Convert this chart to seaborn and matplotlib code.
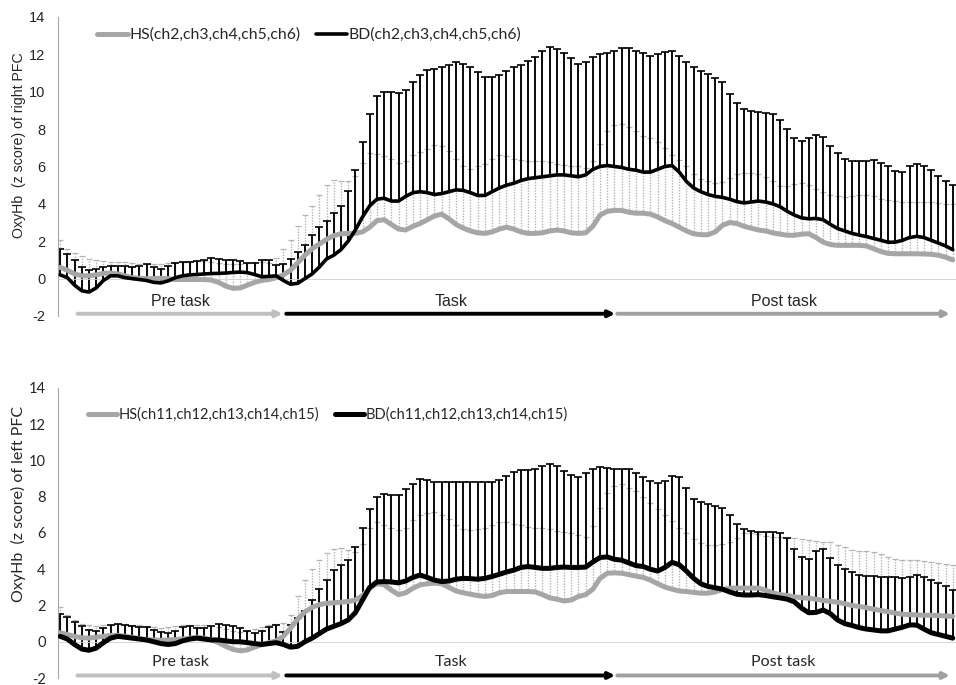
import numpy as np
import pandas as pd
import matplotlib
matplotlib.use("Agg")
import matplotlib.pyplot as plt
import seaborn as sns
from matplotlib.lines import Line2D

# ---------------- data ----------------
sample = list(range(125))

right_hs_mean = [0.60, 0.45, 0.25, 0.15, 0.15, 0.20, 0.28, 0.30, 0.25, 0.15,
                 0.05, 0.02, 0.00, 0.00, 0.02, 0.00, -0.05, -0.05, -0.05, -0.05,
                 -0.05, -0.08, -0.20, -0.40, -0.52, -0.50, -0.35, -0.20, -0.10, -0.05,
                 0.05, 0.20, 0.45, 0.85, 1.25, 1.60, 1.85, 2.10, 2.30, 2.40,
                 2.42, 2.42, 2.50, 2.75, 3.10, 3.15, 2.90, 2.65, 2.60, 2.80,
                 2.95, 3.15, 3.35, 3.45, 3.20, 2.90, 2.70, 2.55, 2.45, 2.42,
                 2.50, 2.65, 2.75, 2.65, 2.50, 2.42, 2.42, 2.45, 2.55, 2.60,
                 2.55, 2.45, 2.42, 2.45, 2.80, 3.40, 3.60, 3.65, 3.65, 3.55,
                 3.50, 3.50, 3.45, 3.30, 3.10, 2.95, 2.75, 2.55, 2.40, 2.35,
                 2.35, 2.50, 2.85, 3.00, 2.95, 2.80, 2.70, 2.60, 2.55, 2.45,
                 2.38, 2.32, 2.32, 2.38, 2.40, 2.20, 1.95, 1.82, 1.78, 1.78,
                 1.78, 1.78, 1.75, 1.60, 1.45, 1.35, 1.33, 1.33, 1.33, 1.33,
                 1.32, 1.30, 1.25, 1.15, 1.00]
right_hs_upper = [2.05, 1.60, 1.35, 1.20, 1.06, 1.00, 0.95, 0.90, 0.90, 0.88,
                  0.85, 0.80, 0.80, 0.78, 0.80, 0.85, 0.90, 0.90, 0.92, 0.95,
                  0.95, 0.90, 0.85, 0.80, 0.80, 0.80, 0.85, 0.90, 0.90, 0.85,
                  1.10, 1.60, 2.05, 2.80, 3.40, 3.90, 4.50, 5.00, 5.28, 5.25,
                  5.20, 5.50, 6.20, 6.70, 6.65, 6.55, 6.40, 6.20, 6.30, 6.60,
                  6.75, 6.95, 7.15, 7.10, 6.85, 6.40, 6.00, 5.85, 6.00, 6.15,
                  6.40, 6.60, 6.55, 6.40, 6.35, 6.30, 6.28, 6.27, 6.22, 6.15,
                  6.10, 6.05, 6.00, 5.92, 6.30, 7.20, 7.90, 8.20, 8.30, 8.10,
                  7.90, 7.65, 7.50, 7.30, 7.00, 6.60, 6.35, 6.00, 5.60, 5.35,
                  5.20, 5.10, 5.15, 5.40, 5.60, 5.65, 5.65, 5.60, 5.45, 5.20,
                  4.95, 4.95, 5.05, 5.10, 5.00, 4.80, 4.62, 4.50, 4.40, 4.38,
                  4.40, 4.45, 4.47, 4.40, 4.28, 4.20, 4.15, 4.12, 4.10, 4.10,
                  4.10, 4.10, 4.05, 4.00, 3.98]
right_bd_mean = [0.20, 0.05, -0.35, -0.65, -0.72, -0.50, -0.10, 0.15, 0.15, 0.05,
                 0.00, -0.05, -0.10, -0.20, -0.23, -0.12, 0.05, 0.15, 0.20, 0.22,
                 0.25, 0.27, 0.28, 0.30, 0.33, 0.35, 0.32, 0.22, 0.10, 0.12,
                 0.15, -0.10, -0.30, -0.25, 0.00, 0.25, 0.62, 1.05, 1.25, 1.55,
                 2.00, 2.60, 3.30, 3.90, 4.25, 4.30, 4.15, 4.15, 4.40, 4.60,
                 4.65, 4.60, 4.50, 4.55, 4.65, 4.75, 4.72, 4.60, 4.45, 4.45,
                 4.65, 4.85, 5.00, 5.10, 5.25, 5.35, 5.40, 5.45, 5.50, 5.55,
                 5.55, 5.50, 5.45, 5.55, 5.85, 6.00, 6.05, 6.00, 5.95, 5.85,
                 5.80, 5.70, 5.70, 5.85, 6.00, 6.05, 5.70, 5.20, 4.85, 4.65,
                 4.50, 4.40, 4.35, 4.25, 4.12, 4.05, 4.10, 4.15, 4.10, 4.00,
                 3.85, 3.60, 3.40, 3.25, 3.20, 3.22, 3.15, 2.90, 2.68, 2.55,
                 2.42, 2.33, 2.25, 2.15, 2.05, 1.95, 1.95, 2.05, 2.20, 2.26,
                 2.20, 2.05, 1.90, 1.75, 1.55]
right_bd_upper = [1.60, 1.30, 1.00, 0.60, 0.45, 0.50, 0.60, 0.70, 0.70, 0.65,
                  0.60, 0.70, 0.80, 0.60, 0.50, 0.70, 0.85, 0.90, 0.90, 0.95,
                  1.00, 1.10, 1.05, 1.00, 1.00, 0.95, 0.85, 0.85, 1.00, 1.00,
                  0.75, 0.80, 1.06, 1.45, 1.78, 2.32, 2.75, 3.10, 3.50, 3.90,
                  4.70, 5.80, 7.30, 8.80, 9.75, 10.00, 10.00, 9.95, 10.10, 10.50,
                  10.90, 11.15, 11.20, 11.30, 11.45, 11.57, 11.50, 11.30, 11.05, 10.80,
                  10.80, 10.90, 11.10, 11.30, 11.45, 11.65, 11.85, 12.20, 12.38, 12.30,
                  12.05, 11.80, 11.50, 11.60, 11.85, 12.00, 12.05, 12.20, 12.33, 12.35,
                  12.20, 12.05, 11.90, 12.00, 12.15, 12.18, 11.90, 11.60, 11.30, 11.10,
                  10.95, 10.75, 10.50, 9.90, 9.40, 9.10, 8.97, 8.93, 8.88, 8.80,
                  8.50, 8.00, 7.50, 7.35, 7.50, 7.70, 7.60, 7.10, 6.70, 6.40,
                  6.27, 6.27, 6.30, 6.36, 6.20, 6.00, 5.75, 5.73, 6.00, 6.15,
                  6.00, 5.80, 5.50, 5.20, 5.00]

left_hs_mean = [0.50, 0.40, 0.30, 0.22, 0.20, 0.25, 0.30, 0.35, 0.35, 0.30,
                0.25, 0.18, 0.12, 0.10, 0.08, 0.10, 0.12, 0.15, 0.20, 0.25,
                0.20, 0.10, -0.05, -0.25, -0.42, -0.50, -0.45, -0.30, -0.15, -0.05,
                0.05, 0.30, 0.75, 1.25, 1.65, 1.90, 2.05, 2.12, 2.15, 2.18,
                2.22, 2.30, 2.55, 2.95, 3.20, 3.15, 2.85, 2.60, 2.70, 2.95,
                3.14, 3.20, 3.23, 3.20, 3.00, 2.80, 2.70, 2.62, 2.55, 2.50,
                2.55, 2.70, 2.77, 2.77, 2.77, 2.77, 2.75, 2.60, 2.42, 2.35,
                2.25, 2.30, 2.50, 2.60, 2.90, 3.50, 3.78, 3.80, 3.78, 3.70,
                3.62, 3.55, 3.40, 3.20, 3.02, 2.90, 2.80, 2.77, 2.72, 2.68,
                2.68, 2.75, 2.88, 2.96, 2.96, 2.96, 2.96, 2.96, 2.85, 2.70,
                2.60, 2.55, 2.48, 2.43, 2.40, 2.35, 2.28, 2.23, 2.18, 2.10,
                2.00, 1.95, 1.88, 1.80, 1.72, 1.66, 1.58, 1.52, 1.50, 1.48,
                1.46, 1.46, 1.45, 1.42, 1.40]
left_hs_upper = [1.90, 1.50, 1.20, 1.00, 0.90, 0.88, 0.90, 0.95, 1.00, 0.98,
                 0.95, 0.90, 0.85, 0.80, 0.78, 0.80, 0.85, 0.90, 0.95, 0.95,
                 0.90, 0.85, 0.80, 0.70, 0.60, 0.55, 0.60, 0.70, 0.80, 0.95,
                 1.00, 1.05, 1.50, 2.55, 3.40, 4.00, 4.50, 4.90, 5.10, 5.15,
                 5.08, 4.97, 5.40, 6.30, 6.60, 6.45, 6.30, 6.15, 6.30, 6.70,
                 6.97, 7.10, 7.15, 7.00, 6.75, 6.45, 6.20, 6.15, 6.20, 6.30,
                 6.45, 6.60, 6.58, 6.50, 6.42, 6.35, 6.30, 6.25, 6.20, 6.12,
                 6.06, 6.00, 5.90, 5.80, 6.40, 7.40, 8.20, 8.60, 8.70, 8.50,
                 8.30, 8.00, 7.65, 7.30, 7.00, 6.65, 6.30, 6.00, 5.65, 5.45,
                 5.35, 5.35, 5.42, 5.50, 5.75, 6.00, 6.02, 5.92, 5.85, 5.80,
                 5.79, 5.75, 5.70, 5.65, 5.60, 5.58, 5.53, 5.51, 5.35, 5.20,
                 5.06, 5.02, 5.00, 4.97, 4.85, 4.70, 4.55, 4.51, 4.51, 4.50,
                 4.45, 4.38, 4.33, 4.28, 4.24]
left_bd_mean = [0.30, 0.15, -0.15, -0.40, -0.47, -0.35, -0.05, 0.20, 0.30, 0.25,
                0.20, 0.15, 0.10, 0.00, -0.10, -0.15, -0.10, 0.05, 0.15, 0.20,
                0.15, 0.10, 0.10, 0.05, 0.00, 0.00, -0.05, -0.10, -0.15, -0.10,
                -0.05, -0.15, -0.30, -0.25, 0.00, 0.20, 0.45, 0.70, 0.85, 1.00,
                1.20, 1.60, 2.30, 3.00, 3.30, 3.32, 3.30, 3.25, 3.35, 3.55,
                3.68, 3.55, 3.40, 3.32, 3.35, 3.45, 3.50, 3.48, 3.45, 3.50,
                3.60, 3.72, 3.85, 3.95, 4.10, 4.15, 4.10, 4.05, 4.05, 4.10,
                4.12, 4.10, 4.10, 4.12, 4.40, 4.65, 4.68, 4.55, 4.50, 4.35,
                4.20, 4.15, 4.00, 3.90, 4.10, 4.38, 4.25, 3.90, 3.50, 3.20,
                3.05, 2.98, 2.90, 2.75, 2.62, 2.58, 2.58, 2.60, 2.55, 2.48,
                2.42, 2.35, 2.20, 1.85, 1.60, 1.62, 1.75, 1.55, 1.20, 1.00,
                0.90, 0.78, 0.70, 0.65, 0.60, 0.60, 0.70, 0.80, 0.93, 0.92,
                0.70, 0.50, 0.40, 0.30, 0.20]
left_bd_upper = [1.55, 1.35, 1.10, 0.85, 0.65, 0.60, 0.75, 0.95, 1.00, 0.95,
                 0.85, 0.82, 0.80, 0.65, 0.55, 0.50, 0.60, 0.80, 0.85, 0.75,
                 0.75, 0.85, 1.00, 0.95, 0.85, 0.75, 0.60, 0.50, 0.60, 0.80,
                 0.90, 0.55, 0.95, 1.30, 1.70, 2.30, 2.90, 3.40, 3.95, 4.25,
                 4.50, 5.20, 6.30, 7.30, 8.00, 8.15, 8.10, 8.07, 8.40, 8.70,
                 9.00, 8.95, 8.80, 8.80, 8.80, 8.80, 8.80, 8.80, 8.80, 8.80,
                 8.80, 8.95, 9.16, 9.35, 9.45, 9.50, 9.55, 9.70, 9.80, 9.70,
                 9.40, 9.20, 9.10, 9.30, 9.55, 9.62, 9.60, 9.55, 9.53, 9.53,
                 9.30, 9.10, 8.85, 8.75, 8.85, 9.15, 9.10, 8.50, 7.90, 7.70,
                 7.60, 7.50, 7.40, 7.00, 6.50, 6.20, 6.10, 6.06, 6.06, 6.06,
                 6.00, 5.70, 5.10, 4.65, 4.55, 5.00, 5.10, 4.60, 4.25, 4.00,
                 3.85, 3.70, 3.65, 3.62, 3.60, 3.58, 3.55, 3.50, 3.60, 3.68,
                 3.55, 3.40, 3.25, 3.05, 2.87]

phase_labels = ["Pre task", "Task", "Post task"]
phase_start = [2.4, 31.4, 77.4]
phase_end = [30.9, 77.1, 123.6]
phase_colors = ["#bfbfbf", "#000000", "#a0a0a0"]

yticks = [-2, 0, 2, 4, 6, 8, 10, 12, 14]

# ---------------- styling ----------------
sns.set_style("white")
plt.rcParams["font.family"] = ["Liberation Sans", "DejaVu Sans"]

HS_COLOR = "#a6a6a6"
HS_BAR = "#b4b4b4"

fig = plt.figure(figsize=(9.56, 6.85), dpi=100)
ax_top = fig.add_axes([0.0607, 0.5387, 0.9393, 0.4365])
ax_bot = fig.add_axes([0.0607, 0.0102, 0.9393, 0.4234])


def draw_panel(ax, hs_mean, hs_up, bd_mean, bd_up, hs_lbl, bd_lbl, ylabel,
               family, bd_lw, hs_lw, leg_pos, leg_size, leg_colsp,
               phase_y, label_y, ylab_size, ylab_y, tick_size):
    df = pd.DataFrame({"sample": sample, "hs": hs_mean, "hs_up": hs_up,
                       "bd": bd_mean, "bd_up": bd_up})
    # HS error bars (dotted grey, upward only)
    ax.vlines(df["sample"], df["hs"], df["hs_up"], colors=HS_BAR,
              linestyles=(0, (1, 1)), linewidth=1.0, zorder=1)
    ax.plot(df["sample"], df["hs_up"], ls="none", marker="_", ms=5,
            mew=0.9, color=HS_BAR, zorder=1)
    # BD error bars (black, upward only)
    ax.vlines(df["sample"], df["bd"], df["bd_up"], colors="black",
              linewidth=1.35, zorder=2)
    ax.plot(df["sample"], df["bd_up"], ls="none", marker="_", ms=5.5,
            mew=1.2, color="black", zorder=2)
    # mean lines
    sns.lineplot(data=df, x="sample", y="hs", ax=ax, color=HS_COLOR,
                 linewidth=hs_lw, zorder=3, legend=False)
    sns.lineplot(data=df, x="sample", y="bd", ax=ax, color="black",
                 linewidth=bd_lw, zorder=4, legend=False)

    ax.set_xlim(-0.3, 124.45)
    ax.set_ylim(-2, 14)
    ax.set_yticks(yticks)
    ax.set_yticklabels([str(t) for t in yticks], family=family, fontsize=tick_size)
    ax.set_xticks(np.linspace(-0.3, 124.45, 390))
    ax.set_xticklabels([])
    ax.tick_params(axis="x", direction="out", length=3.5, width=0.7,
                   color="#bfbfbf", pad=0)
    ax.tick_params(axis="y", direction="out", length=4, width=0.8,
                   color="#a6a6a6", pad=5)
    for s in ["top", "right"]:
        ax.spines[s].set_visible(False)
    ax.spines["bottom"].set_position(("data", 0))
    ax.spines["bottom"].set_color("#d0d0d0")
    ax.spines["bottom"].set_linewidth(0.6)
    ax.spines["left"].set_color("#a6a6a6")
    ax.spines["left"].set_linewidth(0.8)
    ax.set_xlabel("")
    ax.set_ylabel(ylabel, family=family, fontsize=ylab_size)
    ax.yaxis.set_label_coords(-0.036, ylab_y)

    # phase arrows & labels
    for lbl, x0, x1, c in zip(phase_labels, phase_start, phase_end, phase_colors):
        ax.annotate("", xy=(x1, phase_y), xytext=(x0, phase_y),
                    arrowprops=dict(arrowstyle="-|>", color=c, lw=2.8,
                                    mutation_scale=9, shrinkA=0, shrinkB=0),
                    annotation_clip=False)
        ax.text((x0 + x1) / 2, label_y, lbl, ha="center", va="center",
                family=family, fontsize=11.5)

    handles = [Line2D([], [], color=HS_COLOR, lw=hs_lw, solid_capstyle="round"),
               Line2D([], [], color="black", lw=bd_lw)]
    ax.legend(handles, [hs_lbl, bd_lbl], loc="center left",
              bbox_to_anchor=leg_pos, ncol=2, frameon=False,
              handlelength=2.0, handletextpad=0.1, columnspacing=leg_colsp,
              borderaxespad=0, borderpad=0,
              prop={"family": ["Lato", "DejaVu Sans"], "size": leg_size})


draw_panel(ax_top, right_hs_mean, right_hs_upper, right_bd_mean, right_bd_upper,
           "HS(ch2,ch3,ch4,ch5,ch6)", "BD(ch2,ch3,ch4,ch5,ch6)",
           "OxyHb  (z score) of right PFC", ["Liberation Sans", "DejaVu Sans"],
           2.6, 3.6, (0.043, 0.94), 11.3, 0.95, -1.88, -1.22, 10.2, 0.572, 10.5)
draw_panel(ax_bot, left_hs_mean, left_hs_upper, left_bd_mean, left_bd_upper,
           "HS(ch11,ch12,ch13,ch14,ch15)", "BD(ch11,ch12,ch13,ch14,ch15)",
           "OxyHb  (z score) of left PFC", ["Lato", "DejaVu Sans"],
           3.6, 3.6, (0.033, 0.908), 10.5, 1.1, -1.86, -1.1, 11.5, 0.60, 10.5)

fig.savefig("out.png", dpi=100)
